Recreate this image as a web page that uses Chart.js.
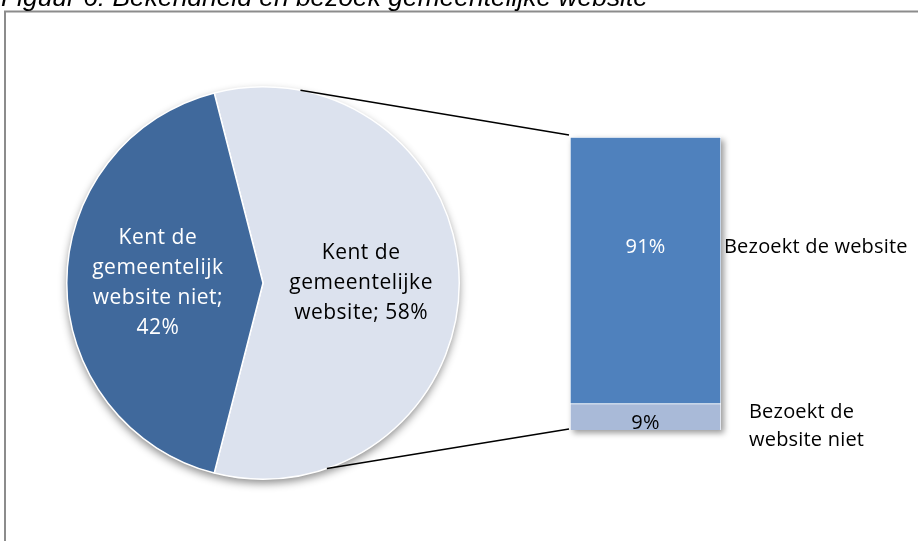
<!DOCTYPE html>
<html>
<head>
<meta charset="utf-8">
<script src="https://cdn.jsdelivr.net/npm/chart.js@4.4.1/dist/chart.umd.min.js"></script>
<style>
  html, body { margin: 0; padding: 0; background: #fff; }
  #wrap { position: relative; width: 918px; height: 541px; overflow: hidden; }
  #wrap canvas { position: absolute; left: 0; top: 0; }
</style>
</head>
<body>
<div id="wrap">
  <canvas id="taart" width="918" height="541"></canvas>
  <canvas id="staaf" width="918" height="541"></canvas>
</div>
<script>
const titel = 'Figuur 6: Bekendheid en bezoek gemeentelijke website';

// taart: bekendheid van de website
const taartLabels = [['Kent de', 'gemeentelijke', 'website'], ['Kent de', 'gemeentelijk', 'website niet']];
const taartWaarden = [58, 42];
const taartKleuren = ['#dce2ee', '#40699c'];
const taartTekstKleuren = ['#000000', '#ffffff'];

// staaf: bezoek van de website (uitsplitsing van de 58%)
const staafLabels = [['Bezoekt de website'], ['Bezoekt de', 'website niet']];
const staafWaarden = [91, 9];
const staafKleuren = ['#4f81bd', '#a9bad8'];
const staafTekstKleuren = ['#ffffff', '#000000'];

const totaal = taartWaarden.reduce((a, b) => a + b, 0);

const kader = {
    id: 'kader',
    beforeDraw(chart) {
        const ctx = chart.ctx;
        ctx.save();
        ctx.strokeStyle = '#8c8c8c';
        ctx.lineWidth = 2;
        ctx.beginPath();
        ctx.moveTo(5, 600);
        ctx.lineTo(5, 11.5);
        ctx.lineTo(960, 11.5);
        ctx.stroke();
        ctx.font = 'italic 26.4px "Liberation Sans", Arial, sans-serif';
        ctx.fillStyle = '#000';
        ctx.textBaseline = 'alphabetic';
        ctx.fillText(titel, 1, 6);
        ctx.restore();
    }
};

// zachte schaduw onder de taart
const taartSchaduw = {
    id: 'taartSchaduw',
    beforeDatasetsDraw(chart) {
        const arc = chart.getDatasetMeta(0).data[0];
        const ctx = chart.ctx;
        ctx.save();
        ctx.shadowColor = 'rgba(0,0,0,0.45)';
        ctx.shadowBlur = 9;
        ctx.shadowOffsetY = 4;
        ctx.fillStyle = '#fff';
        ctx.beginPath();
        ctx.arc(arc.x, arc.y, arc.outerRadius, 0, Math.PI * 2);
        ctx.fill();
        ctx.restore();
    }
};

const taartTekst = {
    id: 'taartTekst',
    afterDatasetsDraw(chart) {
        const ctx = chart.ctx;
        const meta = chart.getDatasetMeta(0);
        ctx.save();
        ctx.font = '21px "Open Sans", sans-serif';
        ctx.letterSpacing = '0.5px';
        ctx.textAlign = 'center';
        ctx.textBaseline = 'middle';
        meta.data.forEach((arc, i) => {
            const regels = taartLabels[i].slice();
            const laatste = regels.pop() + ';';
            const waarde = taartWaarden[i] + '%';
            if (ctx.measureText(laatste + ' ' + waarde).width <= 160) {
                regels.push(laatste + ' ' + waarde);
            } else {
                regels.push(laatste, waarde);
            }
            const p = arc.tooltipPosition();
            const lh = 30;
            const y0 = p.y - (regels.length - 1) * lh / 2;
            ctx.fillStyle = taartTekstKleuren[i];
            regels.forEach((r, j) => ctx.fillText(r, p.x + (i === 1 ? -7 : 0), y0 + j * lh));
        });
        ctx.restore();
    }
};

const taart = new Chart(document.getElementById('taart'), {
    type: 'pie',
    data: {
        labels: taartLabels,
        datasets: [{
            data: taartWaarden,
            backgroundColor: taartKleuren,
            borderColor: '#ffffff',
            borderWidth: 1.5
        }]
    },
    options: {
        responsive: false,
        animation: false,
        rotation: 90 - taartWaarden[0] / totaal * 180, // lichte deel rechts gecentreerd
        layout: { padding: { left: 66, right: 458, top: 86, bottom: 61 } },
        plugins: {
            legend: { display: false },
            tooltip: { enabled: false }
        }
    },
    plugins: [kader, taartSchaduw, taartTekst]
});

const staafSchaduw = {
    id: 'staafSchaduw',
    beforeDatasetsDraw(chart) {
        const a = chart.chartArea;
        const ctx = chart.ctx;
        ctx.save();
        ctx.shadowColor = 'rgba(0,0,0,0.4)';
        ctx.shadowBlur = 6;
        ctx.shadowOffsetX = 3;
        ctx.shadowOffsetY = 3;
        ctx.fillStyle = '#fff';
        ctx.fillRect(a.left, a.top, a.right - a.left, a.bottom - a.top);
        ctx.restore();
    }
};

// verbindingslijnen van de taart naar de staaf
const verbinding = {
    id: 'verbinding',
    afterDraw(chart) {
        const arc = taart.getDatasetMeta(0).data[0];
        const a = chart.chartArea;
        const hoeken = [11, 161];
        const doelen = [[a.left - 1, a.top - 2], [a.left - 1, a.bottom - 1]];
        const ctx = chart.ctx;
        ctx.save();
        ctx.strokeStyle = '#000';
        ctx.lineWidth = 1.5;
        hoeken.forEach((h, i) => {
            const rad = h * Math.PI / 180;
            ctx.beginPath();
            ctx.moveTo(arc.x + arc.outerRadius * Math.sin(rad), arc.y - arc.outerRadius * Math.cos(rad));
            ctx.lineTo(doelen[i][0], doelen[i][1]);
            ctx.stroke();
        });
        ctx.restore();
    }
};

const staafTekst = {
    id: 'staafTekst',
    afterDatasetsDraw(chart) {
        const ctx = chart.ctx;
        const a = chart.chartArea;
        const verschuiving = [-23, 6];
        const labelX = [3, 28];
        ctx.save();
        ctx.font = '20px "Open Sans", sans-serif';
        ctx.letterSpacing = '0.2px';
        ctx.textBaseline = 'middle';
        staafWaarden.forEach((v, i) => {
            const meta = chart.getDatasetMeta(staafWaarden.length - 1 - i);
            const bar = meta.data[0];
            const y = (bar.y + bar.base) / 2 + verschuiving[i];
            ctx.textAlign = 'center';
            ctx.fillStyle = staafTekstKleuren[i];
            ctx.fillText(v + '%', bar.x, y);
            ctx.textAlign = 'left';
            ctx.fillStyle = '#000';
            const regels = staafLabels[i];
            const y0 = y - (regels.length - 1) * 28 / 2 + (i === 1 ? 3 : 0);
            regels.forEach((r, j) => ctx.fillText(r, a.right + labelX[i], y0 + j * 28));
        });
        ctx.restore();
    }
};

new Chart(document.getElementById('staaf'), {
    type: 'bar',
    data: {
        labels: [''],
        datasets: staafWaarden.map((v, i) => ({
            label: staafLabels[i].join(' '),
            data: [v],
            backgroundColor: staafKleuren[i],
            borderColor: '#ffffff',
            borderWidth: 1,
            barPercentage: 1,
            categoryPercentage: 1
        })).reverse()
    },
    options: {
        responsive: false,
        animation: false,
        layout: { padding: { left: 570, right: 197, top: 137, bottom: 111 } },
        scales: {
            x: { display: false, stacked: true },
            y: { display: false, stacked: true, min: 0, max: 100 }
        },
        plugins: {
            legend: { display: false },
            tooltip: { enabled: false }
        }
    },
    plugins: [staafSchaduw, staafTekst, verbinding]
});
</script>
</body>
</html>
